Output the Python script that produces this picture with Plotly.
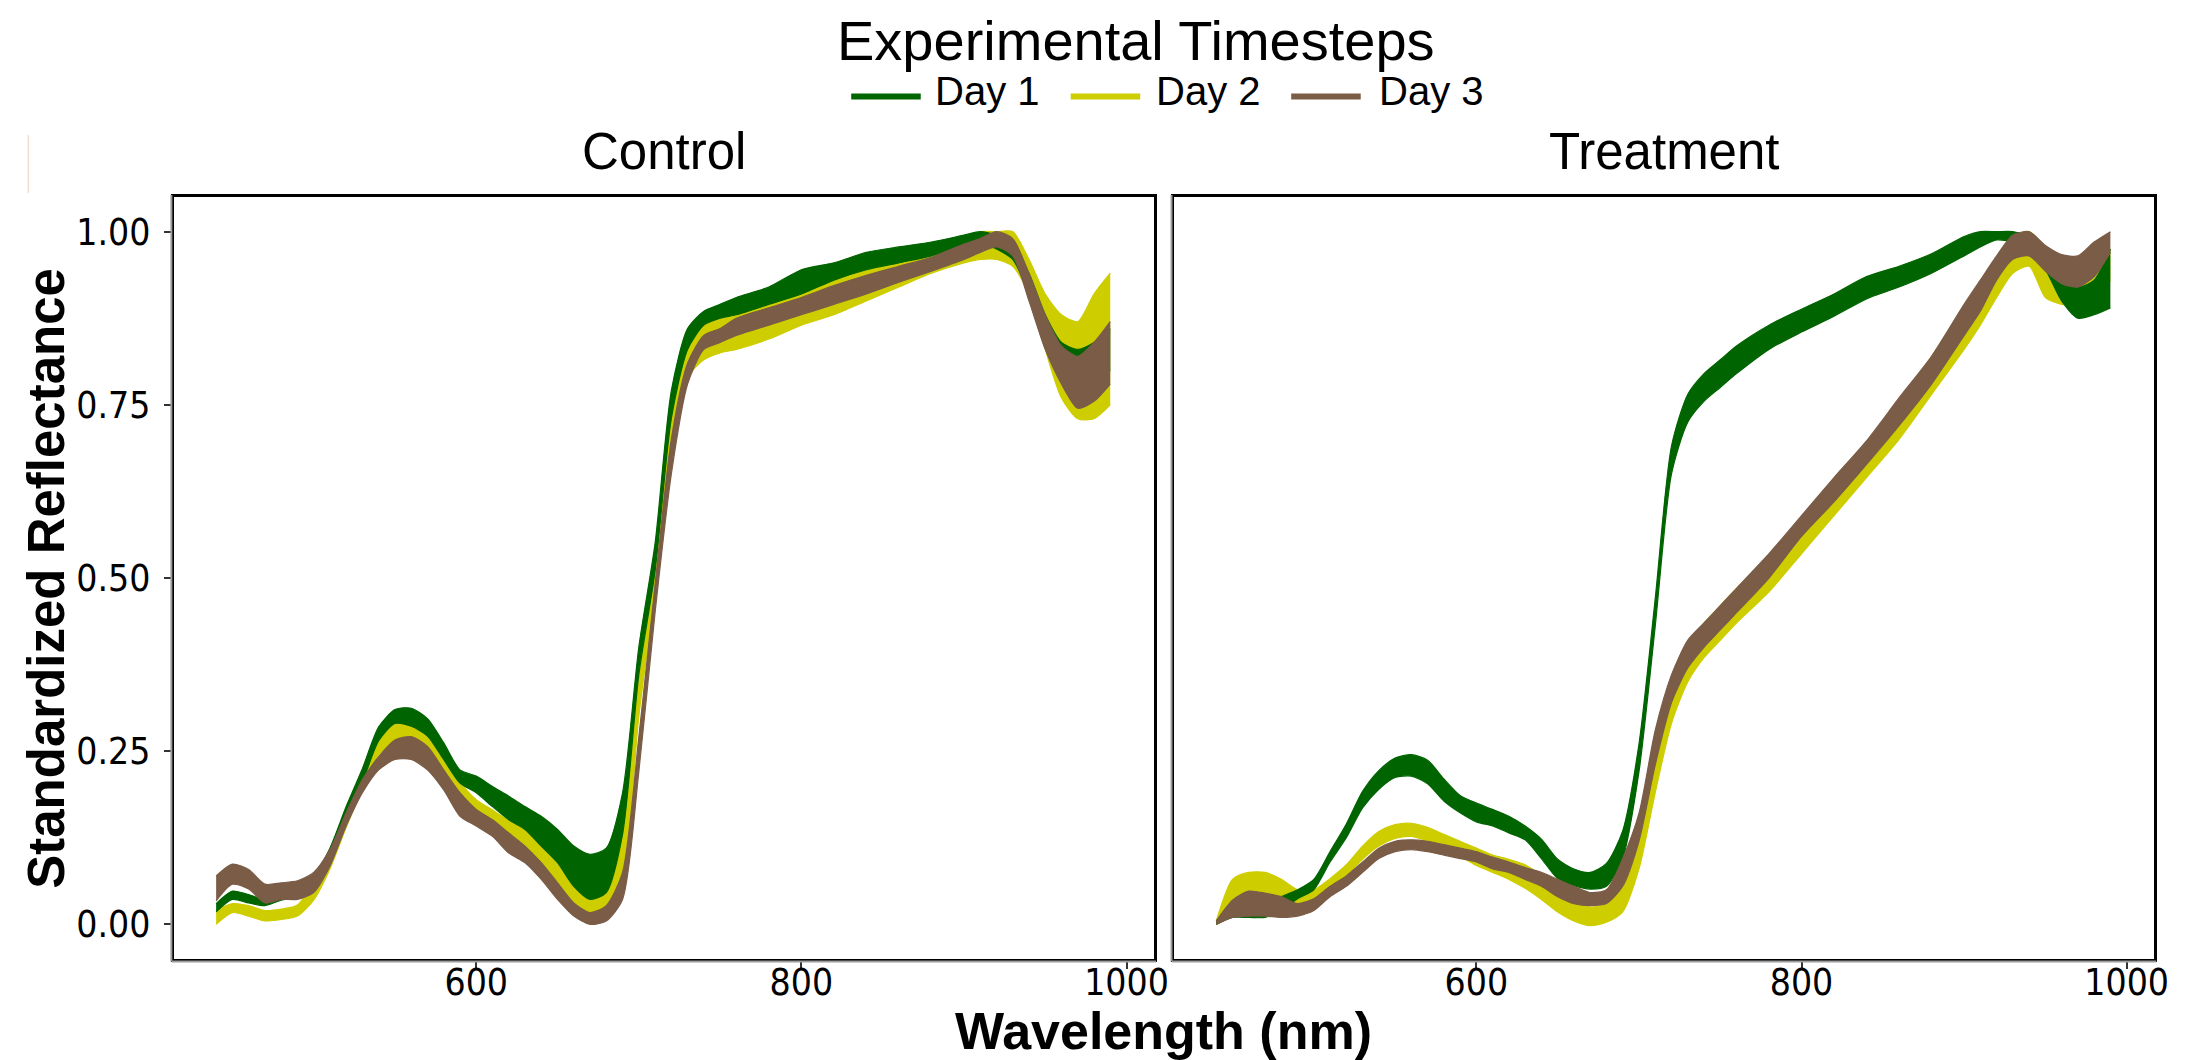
import plotly.graph_objects as go

W, H = 2202, 1060

# ---------------- data ----------------
WAVELENGTH = [440, 450, 460, 470, 480, 490, 500, 510, 520, 530, 540, 550, 560, 570,
              580, 590, 600, 610, 620, 630, 640, 650, 660, 670, 680, 690, 700, 710,
              720, 730, 740, 750, 760, 780, 800, 820, 840, 860, 880, 900, 910, 920,
              930, 940, 950, 960, 970, 980, 990]

DAYS = ["Day 1", "Day 2", "Day 3"]
DAY_COLORS = ["#006400", "#CDCD00", "#7A5C47"]
PANELS = ["Control", "Treatment"]
X_TICKS = [600, 800, 1000]
Y_TICKS = [0.0, 0.25, 0.5, 0.75, 1.0]
Y_TICK_TEXT = ["0.00", "0.25", "0.50", "0.75", "1.00"]

# Control – envelope (low / high) of the spectra bundle of each day
CONTROL_DAY1_LOW = [0.018, 0.036, 0.031, 0.027, 0.035, 0.040, 0.050, 0.090, 0.150, 0.205, 0.265, 0.290, 0.286, 0.272,
                    0.238, 0.204, 0.190, 0.170, 0.151, 0.137, 0.113, 0.089, 0.055, 0.036, 0.046, 0.130, 0.360, 0.510,
                    0.730, 0.830, 0.865, 0.875, 0.880, 0.895, 0.910, 0.930, 0.945, 0.955, 0.965, 0.980, 0.985, 0.975,
                    0.960, 0.910, 0.840, 0.790, 0.770, 0.780, 0.800]
CONTROL_DAY1_HIGH = [0.030, 0.048, 0.043, 0.036, 0.050, 0.055, 0.070, 0.110, 0.170, 0.225, 0.285, 0.310, 0.312, 0.297,
                     0.262, 0.223, 0.214, 0.199, 0.185, 0.170, 0.156, 0.137, 0.113, 0.101, 0.110, 0.190, 0.400, 0.550,
                     0.770, 0.860, 0.885, 0.895, 0.905, 0.920, 0.945, 0.955, 0.970, 0.978, 0.985, 0.995, 1.000, 0.995,
                     0.980, 0.940, 0.880, 0.840, 0.830, 0.840, 0.860]
CONTROL_DAY2_LOW = [0.000, 0.017, 0.012, 0.005, 0.007, 0.012, 0.035, 0.080, 0.140, 0.195, 0.245, 0.262, 0.265, 0.245,
                    0.210, 0.175, 0.150, 0.135, 0.118, 0.100, 0.078, 0.048, 0.020, 0.003, 0.010, 0.060, 0.300, 0.480,
                    0.700, 0.790, 0.815, 0.825, 0.830, 0.845, 0.865, 0.880, 0.900, 0.920, 0.940, 0.955, 0.960, 0.960,
                    0.950, 0.910, 0.830, 0.760, 0.730, 0.730, 0.750]
CONTROL_DAY2_HIGH = [0.020, 0.030, 0.027, 0.020, 0.022, 0.028, 0.060, 0.100, 0.160, 0.215, 0.270, 0.290, 0.293, 0.270,
                     0.240, 0.205, 0.180, 0.165, 0.150, 0.140, 0.115, 0.090, 0.070, 0.065, 0.065, 0.140, 0.350, 0.520,
                     0.750, 0.840, 0.870, 0.880, 0.890, 0.910, 0.930, 0.945, 0.960, 0.972, 0.982, 0.993, 1.000, 1.000,
                     1.000, 0.960, 0.910, 0.880, 0.870, 0.910, 0.940]
CONTROL_DAY3_LOW = [0.034, 0.058, 0.051, 0.031, 0.036, 0.036, 0.046, 0.084, 0.142, 0.190, 0.223, 0.238, 0.238, 0.223,
                    0.194, 0.156, 0.142, 0.127, 0.103, 0.089, 0.065, 0.036, 0.012, 0.000, 0.005, 0.036, 0.220, 0.450,
                    0.650, 0.780, 0.830, 0.840, 0.850, 0.865, 0.880, 0.895, 0.910, 0.927, 0.943, 0.960, 0.970, 0.978,
                    0.965, 0.900, 0.830, 0.780, 0.745, 0.755, 0.780]
CONTROL_DAY3_HIGH = [0.070, 0.087, 0.079, 0.058, 0.060, 0.063, 0.075, 0.108, 0.161, 0.209, 0.242, 0.266, 0.271, 0.257,
                     0.223, 0.190, 0.166, 0.151, 0.132, 0.113, 0.089, 0.060, 0.031, 0.017, 0.027, 0.075, 0.270, 0.490,
                     0.700, 0.810, 0.850, 0.860, 0.875, 0.890, 0.905, 0.922, 0.937, 0.950, 0.963, 0.982, 0.990, 1.000,
                     0.990, 0.940, 0.880, 0.835, 0.820, 0.840, 0.870]

# Treatment
TREATMENT_DAY1_LOW = [0.000, 0.010, 0.010, 0.010, 0.020, 0.037, 0.050, 0.090, 0.125, 0.168, 0.195, 0.212, 0.214, 0.203,
                      0.178, 0.161, 0.148, 0.142, 0.132, 0.122, 0.095, 0.066, 0.056, 0.051, 0.055, 0.095, 0.220, 0.430,
                      0.650, 0.725, 0.755, 0.775, 0.795, 0.830, 0.855, 0.878, 0.903, 0.920, 0.940, 0.965, 0.978, 0.988,
                      0.985, 0.970, 0.945, 0.900, 0.875, 0.880, 0.890]
TREATMENT_DAY1_HIGH = [0.005, 0.025, 0.030, 0.030, 0.040, 0.050, 0.065, 0.105, 0.145, 0.192, 0.222, 0.240, 0.245, 0.237,
                       0.210, 0.186, 0.175, 0.166, 0.156, 0.142, 0.123, 0.094, 0.080, 0.075, 0.088, 0.135, 0.260, 0.470,
                       0.690, 0.765, 0.795, 0.815, 0.835, 0.865, 0.888, 0.910, 0.935, 0.950, 0.968, 0.993, 1.000, 1.000,
                       1.000, 0.993, 0.975, 0.940, 0.920, 0.930, 0.975]
TREATMENT_DAY2_LOW = [0.000, 0.020, 0.040, 0.040, 0.035, 0.030, 0.035, 0.050, 0.070, 0.094, 0.113, 0.124, 0.127, 0.120,
                      0.108, 0.098, 0.085, 0.075, 0.065, 0.052, 0.036, 0.018, 0.005, -0.002, 0.003, 0.018, 0.080, 0.190,
                      0.290, 0.350, 0.385, 0.410, 0.435, 0.480, 0.535, 0.590, 0.645, 0.700, 0.765, 0.830, 0.865, 0.905,
                      0.940, 0.950, 0.905, 0.895, 0.895, 0.900, 0.930]
TREATMENT_DAY2_HIGH = [0.005, 0.065, 0.075, 0.075, 0.065, 0.050, 0.050, 0.066, 0.086, 0.113, 0.134, 0.144, 0.146, 0.140,
                       0.130, 0.120, 0.110, 0.100, 0.094, 0.086, 0.070, 0.048, 0.035, 0.025, 0.030, 0.065, 0.130, 0.250,
                       0.340, 0.400, 0.435, 0.460, 0.485, 0.530, 0.585, 0.640, 0.695, 0.755, 0.820, 0.890, 0.925, 0.960,
                       0.990, 1.000, 0.975, 0.930, 0.920, 0.950, 0.975]
TREATMENT_DAY3_LOW = [0.000, 0.010, 0.012, 0.012, 0.010, 0.012, 0.020, 0.040, 0.055, 0.075, 0.095, 0.105, 0.108, 0.105,
                      0.100, 0.095, 0.090, 0.080, 0.075, 0.065, 0.055, 0.040, 0.030, 0.027, 0.030, 0.055, 0.120, 0.230,
                      0.320, 0.370, 0.400, 0.425, 0.450, 0.500, 0.560, 0.610, 0.664, 0.720, 0.780, 0.850, 0.885, 0.930,
                      0.960, 0.965, 0.943, 0.925, 0.920, 0.935, 0.970]
TREATMENT_DAY3_HIGH = [0.005, 0.035, 0.048, 0.045, 0.040, 0.030, 0.037, 0.055, 0.070, 0.090, 0.110, 0.120, 0.122, 0.120,
                       0.115, 0.110, 0.105, 0.097, 0.090, 0.082, 0.075, 0.065, 0.055, 0.046, 0.050, 0.095, 0.160, 0.280,
                       0.360, 0.410, 0.435, 0.460, 0.485, 0.535, 0.590, 0.645, 0.698, 0.760, 0.820, 0.895, 0.930, 0.965,
                       0.995, 1.000, 0.980, 0.967, 0.965, 0.985, 1.000]

BANDS = {
    "Control": {
        "Day 1": (CONTROL_DAY1_LOW, CONTROL_DAY1_HIGH),
        "Day 2": (CONTROL_DAY2_LOW, CONTROL_DAY2_HIGH),
        "Day 3": (CONTROL_DAY3_LOW, CONTROL_DAY3_HIGH),
    },
    "Treatment": {
        "Day 1": (TREATMENT_DAY1_LOW, TREATMENT_DAY1_HIGH),
        "Day 2": (TREATMENT_DAY2_LOW, TREATMENT_DAY2_HIGH),
        "Day 3": (TREATMENT_DAY3_LOW, TREATMENT_DAY3_HIGH),
    },
}

# ---------------- figure ----------------
FONT = "Liberation Sans, Arial, Helvetica, sans-serif"
TICK_FONT = "Liberation Sans Narrow, Arial Narrow, DejaVu Sans Condensed, Liberation Sans, sans-serif"


def px_x(x):
    return x / W


def px_y(y):
    return 1 - y / H


fig = go.Figure()

axis_refs = {"Control": ("x", "y"), "Treatment": ("x2", "y2")}
draw_order = ["Day 2", "Day 1", "Day 3"]
for panel in PANELS:
    xa, ya = axis_refs[panel]
    for day in draw_order:
        color = DAY_COLORS[DAYS.index(day)]
        low, high = BANDS[panel][day]
        line = dict(color=color, width=1.2, shape="spline", smoothing=0.7)
        fig.add_trace(go.Scatter(x=WAVELENGTH, y=low, mode="lines", line=line,
                                 xaxis=xa, yaxis=ya, showlegend=False, hoverinfo="skip"))
        fig.add_trace(go.Scatter(x=WAVELENGTH, y=high, mode="lines", line=line,
                                 fill="tonexty", fillcolor=color,
                                 xaxis=xa, yaxis=ya, showlegend=False, hoverinfo="skip"))

common_axis = dict(showgrid=False, zeroline=False, showline=True, linecolor="black",
                   linewidth=3, mirror=True, ticks="outside", ticklen=7, tickwidth=2,
                   tickcolor="#333333", tickfont=dict(family=TICK_FONT, size=37, color="black"))

x_range = [414, 1017]
y_range = [-0.05, 1.05]
ydom = [px_y(951), px_y(189)]

fig.update_layout(
    width=W, height=H, autosize=False,
    margin=dict(l=0, r=0, t=0, b=0),
    paper_bgcolor="white", plot_bgcolor="white",
    showlegend=False,
    xaxis=dict(domain=[px_x(167), px_x(1154)], range=x_range, tickvals=X_TICKS,
               anchor="y", ticklabelstandoff=-18, **common_axis),
    yaxis=dict(domain=ydom, range=y_range, tickvals=Y_TICKS, ticktext=Y_TICK_TEXT,
               anchor="x", ticklabelstandoff=6, **common_axis),
    xaxis2=dict(domain=[px_x(1174), px_x(2161)], range=x_range, tickvals=X_TICKS,
                anchor="y2", ticklabelstandoff=-18, **common_axis),
    yaxis2=dict(domain=ydom, range=y_range, anchor="x2",
                **{**common_axis, "ticks": "", "showticklabels": False}),
)

shapes = []
annotations = []

# grey "shadow" axis lines (left and bottom of each panel)
for (x0, x1) in [(165, 1156), (1172, 2163)]:
    shapes.append(dict(type="line", xref="paper", yref="paper",
                       x0=px_x(x0), x1=px_x(x1), y0=px_y(953.5), y1=px_y(953.5),
                       line=dict(color="#9c9c9c", width=2)))
    shapes.append(dict(type="line", xref="paper", yref="paper",
                       x0=px_x(x0 - 0.5), x1=px_x(x0 - 0.5), y0=px_y(187), y1=px_y(953.5),
                       line=dict(color="#9c9c9c", width=2)))

# faint artifact line at top-left of the original image
shapes.append(dict(type="line", xref="paper", yref="paper",
                   x0=px_x(20.5), x1=px_x(20.5), y0=px_y(127), y1=px_y(185),
                   line=dict(color="#f1dfcb", width=1.5)))

# legend (custom, to match the long key lines)
LEGEND_TITLE = "Experimental Timesteps"
legend_keys = [(849, 919, 932), (1070, 1140, 1155), (1292, 1362, 1379)]
for day, color, (lx0, lx1, tx) in zip(DAYS, DAY_COLORS, legend_keys):
    shapes.append(dict(type="line", xref="paper", yref="paper",
                       x0=px_x(lx0), x1=px_x(lx1), y0=px_y(88.5), y1=px_y(88.5),
                       line=dict(color=color, width=6)))
    annotations.append(dict(text=day, xref="paper", yref="paper", x=px_x(tx), y=px_y(83),
                            xanchor="left", yanchor="middle", showarrow=False, borderpad=0,
                            font=dict(family=FONT, size=40, color="black")))

annotations.append(dict(text=LEGEND_TITLE, xref="paper", yref="paper", x=px_x(834), y=1,
                        xanchor="left", yanchor="top", showarrow=False, borderpad=0,
                        font=dict(family=FONT, size=56, color="black")))

# panel strip titles
for panel, cx in zip(PANELS, [660.5, 1667.5]):
    annotations.append(dict(text=panel, xref="paper", yref="paper", x=px_x(cx), y=px_y(143),
                            xanchor="center", yanchor="middle", showarrow=False,
                            font=dict(family=FONT, size=51, color="black")))

# axis titles
annotations.append(dict(text="<b>Wavelength (nm)</b>", xref="paper", yref="paper",
                        x=px_x(1163), y=px_y(1023), xanchor="center", yanchor="middle",
                        showarrow=False, borderpad=0, font=dict(family=FONT, size=52, color="black")))
annotations.append(dict(text="<b>Standardized Reflectance</b>", xref="paper", yref="paper",
                        x=px_x(38), y=px_y(570), xanchor="center", yanchor="middle",
                        textangle=-90, showarrow=False,
                        font=dict(family=FONT, size=51, color="black")))

fig.update_layout(shapes=shapes, annotations=annotations)

fig.write_html("out.html")
